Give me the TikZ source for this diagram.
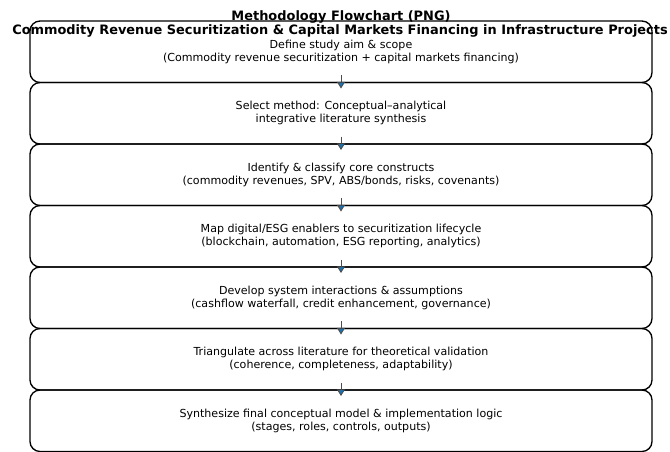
\documentclass[tikz,border=0pt]{standalone}
\usepackage{fontspec}
\setmainfont{DejaVu Sans}
\usetikzlibrary{arrows.meta}
\definecolor{headblue}{HTML}{1F6FA8}
\tikzset{
  stepbox/.style={draw=black, line width=1pt, rounded corners=7.5pt,
    minimum width=466.5pt, minimum height=46.1pt, inner sep=0pt,
    align=center, font=\fontsize{8.3}{9.75}\selectfont},
  flowarrow/.style={draw=black!70, line width=0.6pt,
    -{Triangle[width=6pt,length=5pt,fill=headblue]}},
  titletext/.style={inner sep=0pt, font=\fontsize{9.7}{9.75}\selectfont\bfseries}
}
\begin{document}
\begin{tikzpicture}[x=0.75pt, y=-0.75pt]
\useasboundingbox (0,0) rectangle (670,451);
% process steps, stacked edge to edge
\node[stepbox] (s1) at (341,51.75)  {Define study aim \& scope\\(Commodity revenue securitization + capital markets financing)};
\node[stepbox] (s2) at (341,113.25) {Select method: Conceptual–analytical\\integrative literature synthesis};
\node[stepbox] (s3) at (341,174.75) {Identify \& classify core constructs\\(commodity revenues, SPV, ABS/bonds, risks, covenants)};
\node[stepbox] (s4) at (341,236.25) {Map digital/ESG enablers to securitization lifecycle\\(blockchain, automation, ESG reporting, analytics)};
\node[stepbox] (s5) at (341,297.75) {Develop system interactions \& assumptions\\(cashflow waterfall, credit enhancement, governance)};
\node[stepbox] (s6) at (341,359.25) {Triangulate across literature for theoretical validation\\(coherence, completeness, adaptability)};
\node[stepbox] (s7) at (341,420.75) {Synthesize final conceptual model \& implementation logic\\(stages, roles, controls, outputs)};
% connectors across each shared edge
\foreach \a/\b in {s1/s2, s2/s3, s3/s4, s4/s5, s5/s6, s6/s7}
  \draw[flowarrow] ([yshift=6pt]\a.south) -- ([yshift=-5pt]\b.north);
% heading
\node[titletext] (t1) at (341,17) {Methodology Flowchart (PNG)};
\node[titletext] (t2) at (340,30.5) {Commodity Revenue Securitization \& Capital Markets Financing in Infrastructure Projects};
\end{tikzpicture}
\end{document}
